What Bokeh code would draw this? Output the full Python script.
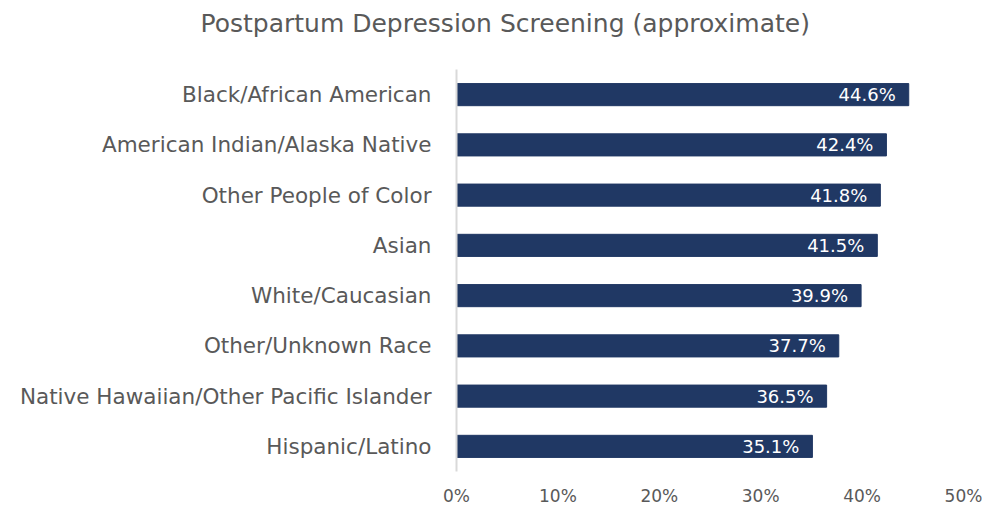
from bokeh.plotting import figure
from bokeh.models import ColumnDataSource, LabelSet, FactorRange, Title
from bokeh.core.properties import value
from bokeh.embed import file_html
from bokeh.resources import INLINE

categories = ["Black/African American", "American Indian/Alaska Native", "Other People of Color",
              "Asian", "White/Caucasian", "Other/Unknown Race",
              "Native Hawaiian/Other Pacific Islander", "Hispanic/Latino"]
values = [44.6, 42.4, 41.8, 41.5, 39.9, 37.7, 36.5, 35.1]
labels = [f"{v:.1f}%" for v in values]
x_ticks = [0, 10, 20, 30, 40, 50]
x_tick_labels = {t: f"{t}%" for t in x_ticks}

FONT = "DejaVu Sans"
GREY = "#595959"
BAR = "#203864"

src = ColumnDataSource(dict(cat=categories, val=values, lab=labels))

p = figure(width=982, height=508, output_backend="svg", toolbar_location=None,
           y_range=FactorRange(*list(reversed(categories)), range_padding=0),
           x_range=(0, 50), min_border_left=456, min_border_right=19,
           min_border_top=69, min_border_bottom=36)
p.title = None
spacer = Title(text=" ", text_font=FONT, text_font_size="1px", standoff=22)
p.add_layout(spacer, "above")
t = Title(text="Postpartum Depression Screening (approximate)", align="left", offset=-256,
          text_font=FONT, text_font_size="25px", text_font_style="normal", text_color=GREY,
          standoff=13)
p.add_layout(t, "above")

p.hbar(y="cat", right="val", left=0, height=0.44, source=src, color=BAR, line_color=BAR)
p.add_layout(LabelSet(x="val", y="cat", text="lab", source=src, x_offset=-13, text_align="right",
                      text_baseline="middle", text_color="white", text_font=value(FONT),
                      text_font_size="18px"))

p.xgrid.visible = False
p.ygrid.visible = False
p.outline_line_color = None

p.xaxis.ticker = x_ticks
p.xaxis.major_label_overrides = x_tick_labels
p.xaxis.axis_line_color = None
p.xaxis.major_tick_line_color = None
p.xaxis.minor_tick_line_color = None
p.xaxis.major_label_text_font = FONT
p.xaxis.major_label_text_font_size = "17px"
p.xaxis.major_label_text_color = GREY
p.xaxis.major_label_standoff = 8

p.yaxis.axis_line_color = "#d9d9d9"
p.yaxis.axis_line_width = 2
p.yaxis.major_tick_line_color = None
p.yaxis.minor_tick_line_color = None
p.yaxis.major_label_text_font = FONT
p.yaxis.major_label_text_font_size = "21.5px"
p.yaxis.major_label_text_color = GREY
p.yaxis.major_label_standoff = 19

open("out.html", "w").write(file_html(p, INLINE))
